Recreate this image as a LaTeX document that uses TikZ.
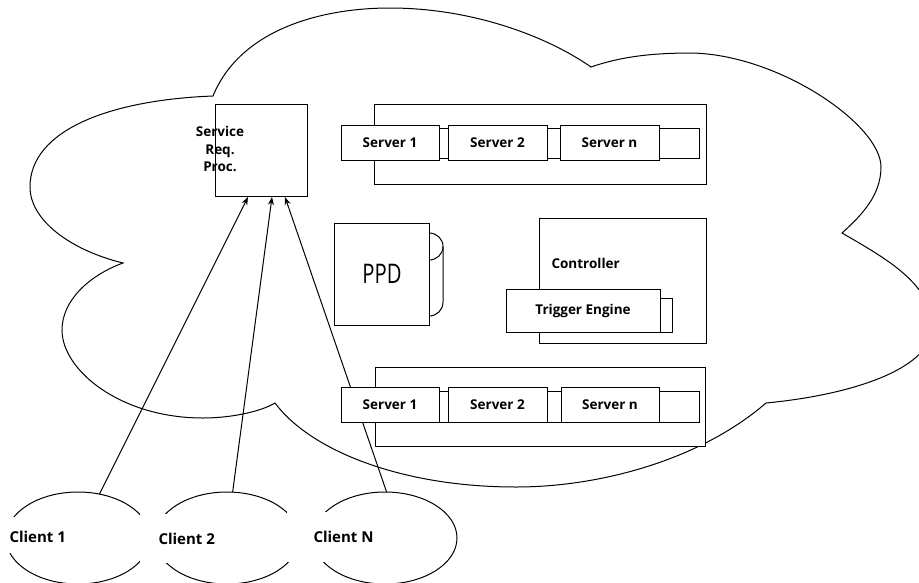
\documentclass[tikz,border=0pt]{standalone}
\usepackage{fontspec}
\setmainfont{Open Sans}
\usetikzlibrary{arrows.meta,shapes.geometric}
\tikzset{
  boxed/.style={draw, fill=white, inner sep=0pt, outer sep=0pt},
  lbl/.style={font=\bfseries\fontsize{13.5}{15}\selectfont, inner sep=0pt},
  clientlbl/.style={font=\bfseries\fontsize{15}{17}\selectfont, inner sep=0pt, anchor=west},
  client/.style={draw, ellipse, minimum width=144pt, minimum height=92pt, inner sep=0pt, outer sep=0pt},
  maskbox/.style={fill=white, inner sep=0pt, outer sep=0pt},
  arr/.style={-{Stealth[length=8pt,width=6pt]}},
}
\begin{document}
\begin{tikzpicture}[x=1pt,y=-1pt,line width=1pt]
\useasboundingbox (0,0) rectangle (919,582);
% cloud
\draw (213,96) .. controls (240,30) and (320,8) .. (390,8)
 .. controls (470,8) and (545,35) .. (591,67)
 .. controls (620,57) and (650,53) .. (692,53)
 .. controls (780,55) and (881,125) .. (881,167)
 .. controls (881,195) and (862,215) .. (842,233)
 .. controls (885,258) and (935,285) .. (932,330)
 .. controls (928,370) and (850,395) .. (766,403)
 .. controls (700,460) and (600,487) .. (516,487)
 .. controls (400,487) and (310,450) .. (275,403)
 .. controls (260,412) and (230,418) .. (203,418)
 .. controls (120,418) and (62,370) .. (62,330)
 .. controls (62,300) and (90,275) .. (123,263)
 .. controls (70,250) and (30,220) .. (30,187)
 .. controls (30,130) and (110,100) .. (213,96) -- cycle;

% service request processor
\node[boxed, minimum width=92pt, minimum height=92pt] (svc) at (261,150) {};
\node[lbl, align=center, font=\bfseries\fontsize{13.5}{17.5}\selectfont] (svct) at (220,149) {Service\\Req.\\Proc.};

% client ellipses
\node[client] (cl1) at (78,538) {};
\node[maskbox, minimum width=142pt, minimum height=36pt] (m1) at (69,535) {};
\node[clientlbl] (cl1t) at (9,537) {Client 1};
\node[client] (cl2) at (227,538) {};
\node[maskbox, minimum width=147pt, minimum height=49pt] (m2) at (213.5,538.5) {};
\node[clientlbl] (cl2t) at (158,539) {Client 2};
\node[client] (cl3) at (385,538) {};
\node[maskbox, minimum width=93pt, minimum height=50pt] (m3) at (333.5,537) {};
\node[clientlbl] (cl3t) at (313,537) {Client N};

% arrow targets
\coordinate (t1) at (248,197);
\coordinate (t2) at (272,197);
\coordinate (t3) at (285,197);
\draw[arr] (cl1.64) -- (t1);
\draw[arr] (cl2.83) -- (t2);
\draw[arr] (cl3.88) -- (t3);

% top server row
\node[boxed, minimum width=332pt, minimum height=80pt] (cont1) at (540,144) {};
\node[boxed, minimum width=299pt, minimum height=30pt] (bar1) at (549.5,143) {};
\node[boxed, lbl, minimum width=98pt, minimum height=35pt] (s1a) at (390,142.5) {Server 1};
\node[boxed, lbl, minimum width=99pt, minimum height=35pt] (s2a) at (497.5,142.5) {Server 2};
\node[boxed, lbl, minimum width=99pt, minimum height=35pt] (sna) at (609.5,142.5) {Server n};

% PPD
\draw (429,233) .. controls (437,233) and (443,239) .. (443,246.5)
  .. controls (443,254) and (437,260) .. (429,260);
\draw (443,246.5) -- (443,302) .. controls (443,310) and (437,316) .. (429,316);
\node[boxed, minimum width=95pt, minimum height=102pt] (ppd) at (381.5,274) {};
\node[font=\fontsize{27}{30}\selectfont, inner sep=0pt] (ppdt) at (382,274) {\scalebox{0.75}[1]{PPD}};

% controller
\node[boxed, minimum width=167pt, minimum height=125pt] (ctrl) at (622.5,280.5) {};
\node[lbl, anchor=west] (ctrlt) at (551,263) {Controller};
\node[boxed, minimum width=22pt, minimum height=34pt] (trigb) at (661,315) {};
\node[boxed, lbl, minimum width=154pt, minimum height=43pt] (trig) at (583,310.5) {Trigger Engine};

% bottom server row
\node[boxed, minimum width=330pt, minimum height=79pt] (cont2) at (540,406.5) {};
\node[boxed, minimum width=299pt, minimum height=31pt] (bar2) at (549.5,406.5) {};
\node[boxed, lbl, minimum width=98pt, minimum height=35pt] (s1b) at (390,404.5) {Server 1};
\node[boxed, lbl, minimum width=99pt, minimum height=35pt] (s2b) at (497.5,404.5) {Server 2};
\node[boxed, lbl, minimum width=98pt, minimum height=35pt] (snb) at (610,404.5) {Server n};
\end{tikzpicture}
\end{document}
